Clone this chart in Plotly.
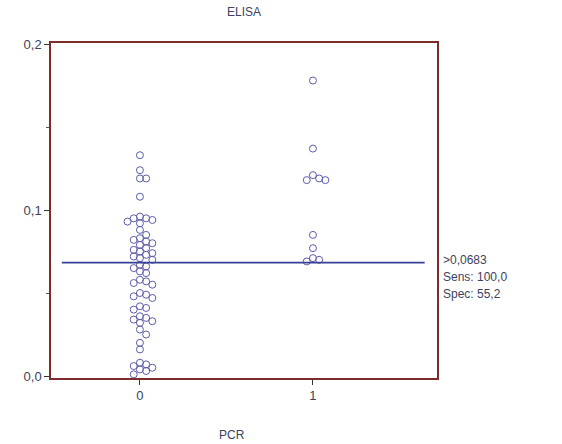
import plotly.graph_objects as go

# ---- data ----
groups = [0, 1]
elisa_pcr0 = [0.133, 0.124, 0.119, 0.119, 0.108,
              0.096, 0.095, 0.095, 0.094, 0.093, 0.092,
              0.088, 0.085, 0.083, 0.082, 0.081, 0.080, 0.079,
              0.077, 0.076, 0.075, 0.074, 0.073, 0.072, 0.071, 0.070,
              0.067, 0.066, 0.065, 0.063, 0.062,
              0.058, 0.057, 0.056, 0.055,
              0.050, 0.049, 0.048, 0.047,
              0.042, 0.041, 0.040,
              0.036, 0.035, 0.034, 0.033, 0.032,
              0.028, 0.025, 0.020, 0.016,
              0.008, 0.007, 0.006, 0.005, 0.004, 0.003, 0.001]
elisa_pcr1 = [0.178, 0.137, 0.121, 0.119, 0.118, 0.118,
              0.085, 0.077, 0.071, 0.070, 0.069]
cutoff = 0.0683
cutoff_text = [">0,0683", "Sens: 100,0", "Spec: 55,2"]
y_ticks = [0.0, 0.1, 0.2]
x_ticks = [0, 1]

# ---- layout constants ----
W, H = 562, 444
ML, MR, MT, MB = 51, 125, 43, 66
XR = [-0.514, 1.717]
YR = [-0.0012, 0.2006]
px_x = (W - ML - MR) / (XR[1] - XR[0])
px_y = (H - MT - MB) / (YR[1] - YR[0])


def swarm(center, values, min_d=6.2, step=3.1):
    placed = []
    xs = []
    for v in values:
        vy = v * px_y
        k = 0
        while True:
            off = ((k + 1) // 2) * step * (1 if k % 2 else -1) if k else 0
            ok = all(((off - px) ** 2 + (vy - py) ** 2) >= min_d ** 2 for px, py in placed)
            if ok:
                break
            k += 1
        placed.append((off, vy))
        xs.append(center + off / px_x)
    return xs


mcol = "#5b5ca8"
fig = go.Figure()
for g, vals in zip(groups, [elisa_pcr0, elisa_pcr1]):
    fig.add_trace(go.Scatter(
        x=swarm(g, vals), y=vals, mode="markers",
        marker=dict(symbol="circle-open", size=7, color=mcol, line=dict(width=1, color=mcol)),
        showlegend=False, hoverinfo="y"))

fig.add_shape(type="line", xref="paper", yref="y", x0=0.028, x1=0.968,
              y0=cutoff, y1=cutoff, line=dict(color="#3b3f95", width=1.8))

txtcol = "#3d4260"
for i, t in enumerate(cutoff_text):
    fig.add_annotation(xref="paper", yref="y", x=1.010, y=cutoff, xanchor="left",
                       yanchor="middle", yshift=3 - 17 * i, showarrow=False, text=t,
                       font=dict(size=12, color=txtcol))

fig.add_annotation(xref="paper", yref="paper", x=0.47, y=-(435 - (H - MB)) / (H - MT - MB),
                   xanchor="center", yanchor="middle", showarrow=False, text="PCR",
                   font=dict(size=12, color=txtcol))

frame = "#7e2b2b"
fig.update_layout(
    width=W, height=H, margin=dict(l=ML, r=MR, t=MT, b=MB),
    paper_bgcolor="white", plot_bgcolor="white",
    separators=",.",
    font=dict(family="Liberation Sans, Arial, sans-serif", size=12, color=txtcol),
    title=dict(text="ELISA", x=0.5, xref="paper", xanchor="center",
               y=1 - 12 / H, yref="container", yanchor="middle",
               font=dict(size=12, color=txtcol)),
    xaxis=dict(range=XR, tickvals=x_ticks, ticktext=[str(v) for v in x_ticks],
               showgrid=False, zeroline=False, showline=True, mirror=True,
               linecolor=frame, linewidth=1.5, ticks="outside", ticklen=5,
               tickcolor="#333", tickfont=dict(size=13, color=txtcol)),
    yaxis=dict(range=YR, tickvals=y_ticks, tickformat=".1f",
               showgrid=False, zeroline=False, showline=True, mirror=True,
               linecolor=frame, linewidth=1.5, ticks="outside", ticklen=5,
               tickcolor="#333", tickfont=dict(size=13, color=txtcol),
               minor=dict(dtick=0.05, tick0=0, ticks="outside", ticklen=3,
                          tickcolor="#555", showgrid=False)),
)

fig.write_html("out.html")
